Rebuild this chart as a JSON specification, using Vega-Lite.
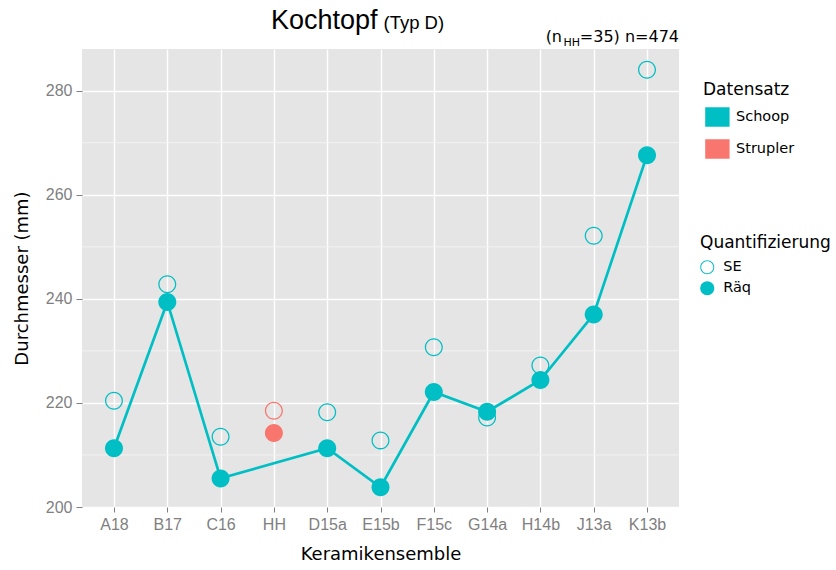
{
  "$schema": "https://vega.github.io/schema/vega-lite/v6.json",
  "autosize": {"type": "none"},
  "width": 597,
  "height": 458,
  "padding": {"left": 82, "top": 49, "right": 157, "bottom": 63},
  "background": "white",
  "config": {
    "view": {"fill": "#E5E5E5", "stroke": null},
    "axis": {
      "domain": false,
      "grid": true,
      "gridColor": "#FFFFFF",
      "gridWidth": 1.4,
      "tickColor": "#7F7F7F",
      "tickWidth": 1,
      "tickSize": 5,
      "labelColor": "#7F7F7F",
      "labelFont": "Liberation Sans",
      "labelFontSize": 16,
      "titleFont": "DejaVu Sans",
      "titleFontSize": 18,
      "titleFontWeight": "normal",
      "titleColor": "#000000"
    },
    "legend": {
      "titleFont": "DejaVu Sans",
      "titleFontSize": 17,
      "titleFontWeight": "normal",
      "titleColor": "#000000",
      "labelFont": "DejaVu Sans",
      "labelFontSize": 14.5,
      "labelColor": "#000000",
      "padding": 0
    }
  },
  "datasets": {
    "main": [
      {"Keramikensemble": "A18", "Datensatz": "Schoop", "Quantifizierung": "SE", "Durchmesser": 220.4},
      {"Keramikensemble": "B17", "Datensatz": "Schoop", "Quantifizierung": "SE", "Durchmesser": 242.8},
      {"Keramikensemble": "C16", "Datensatz": "Schoop", "Quantifizierung": "SE", "Durchmesser": 213.5},
      {"Keramikensemble": "HH", "Datensatz": "Strupler", "Quantifizierung": "SE", "Durchmesser": 218.5},
      {"Keramikensemble": "D15a", "Datensatz": "Schoop", "Quantifizierung": "SE", "Durchmesser": 218.2},
      {"Keramikensemble": "E15b", "Datensatz": "Schoop", "Quantifizierung": "SE", "Durchmesser": 212.8},
      {"Keramikensemble": "F15c", "Datensatz": "Schoop", "Quantifizierung": "SE", "Durchmesser": 230.7},
      {"Keramikensemble": "G14a", "Datensatz": "Schoop", "Quantifizierung": "SE", "Durchmesser": 217.2},
      {"Keramikensemble": "H14b", "Datensatz": "Schoop", "Quantifizierung": "SE", "Durchmesser": 227.2},
      {"Keramikensemble": "J13a", "Datensatz": "Schoop", "Quantifizierung": "SE", "Durchmesser": 252.1},
      {"Keramikensemble": "K13b", "Datensatz": "Schoop", "Quantifizierung": "SE", "Durchmesser": 284.0},
      {"Keramikensemble": "A18", "Datensatz": "Schoop", "Quantifizierung": "Räq", "Durchmesser": 211.3},
      {"Keramikensemble": "B17", "Datensatz": "Schoop", "Quantifizierung": "Räq", "Durchmesser": 239.4},
      {"Keramikensemble": "C16", "Datensatz": "Schoop", "Quantifizierung": "Räq", "Durchmesser": 205.5},
      {"Keramikensemble": "HH", "Datensatz": "Strupler", "Quantifizierung": "Räq", "Durchmesser": 214.2},
      {"Keramikensemble": "D15a", "Datensatz": "Schoop", "Quantifizierung": "Räq", "Durchmesser": 211.3},
      {"Keramikensemble": "E15b", "Datensatz": "Schoop", "Quantifizierung": "Räq", "Durchmesser": 203.8},
      {"Keramikensemble": "F15c", "Datensatz": "Schoop", "Quantifizierung": "Räq", "Durchmesser": 222.1},
      {"Keramikensemble": "G14a", "Datensatz": "Schoop", "Quantifizierung": "Räq", "Durchmesser": 218.3},
      {"Keramikensemble": "H14b", "Datensatz": "Schoop", "Quantifizierung": "Räq", "Durchmesser": 224.4},
      {"Keramikensemble": "J13a", "Datensatz": "Schoop", "Quantifizierung": "Räq", "Durchmesser": 237.0},
      {"Keramikensemble": "K13b", "Datensatz": "Schoop", "Quantifizierung": "Räq", "Durchmesser": 267.6}
    ],
    "minor": [{"v": 210}, {"v": 230}, {"v": 250}, {"v": 270}],
    "title1": [{"t": "Kochtopf"}],
    "title2": [{"t": "(Typ D)"}],
    "ann1": [{"t": "=35) n=474"}],
    "ann2": [{"t": "HH"}],
    "ann3": [{"t": "(n"}]
  },
  "layer": [
    {
      "data": {"name": "minor"},
      "mark": {"type": "rule", "color": "#F2F2F2", "strokeWidth": 1},
      "encoding": {
        "y": {"field": "v", "type": "quantitative", "scale": {"domain": [200, 288], "nice": false, "zero": false},
              "axis": {"title": "Durchmesser (mm)", "values": [200, 220, 240, 260, 280], "tickSize": 6, "labelPadding": 4, "titlePadding": 14}}
      }
    },
    {
      "data": {"name": "main"},
      "transform": [{"filter": "datum.Datensatz === 'Schoop' && datum.Quantifizierung === 'Räq'"}],
      "mark": {"type": "line", "color": "#00BFC4", "strokeWidth": 2.7},
      "encoding": {
        "x": {"field": "Keramikensemble", "type": "nominal", "sort": null,
              "scale": {"type": "point", "padding": 0.6, "domain": ["A18", "B17", "C16", "HH", "D15a", "E15b", "F15c", "G14a", "H14b", "J13a", "K13b"]},
              "axis": {"title": "Keramikensemble", "labelAngle": 0, "labelPadding": 4, "titlePadding": 13}},
        "y": {"field": "Durchmesser", "type": "quantitative", "axis": {"title": "Durchmesser (mm)", "values": [200, 220, 240, 260, 280], "tickSize": 6, "labelPadding": 4, "titlePadding": 14}}
      }
    },
    {
      "data": {"name": "main"},
      "mark": {"type": "point", "filled": true, "opacity": 1, "size": 324, "strokeWidth": 0},
      "encoding": {
        "x": {"field": "Keramikensemble", "type": "nominal", "sort": null, "axis": {"title": "Keramikensemble", "labelAngle": 0, "labelPadding": 4, "titlePadding": 13}},
        "y": {"field": "Durchmesser", "type": "quantitative", "axis": {"title": "Durchmesser (mm)", "values": [200, 220, 240, 260, 280], "tickSize": 6, "labelPadding": 4, "titlePadding": 14}},
        "color": {"field": "Datensatz", "type": "nominal",
                  "scale": {"domain": ["Schoop", "Strupler"], "range": ["#00BFC4", "#F8766D"]},
                  "legend": {"title": "Datensatz", "orient": "none", "legendX": 621, "legendY": 33,
                             "symbolType": "M-0.8,-1H1.7V1H-0.8Z", "symbolSize": 380, "symbolStrokeWidth": 0, "symbolOpacity": 1,
                             "labelOffset": 13, "rowPadding": 12, "titlePadding": 8}},
        "shape": {"field": "Quantifizierung", "type": "nominal",
                  "scale": {"domain": ["SE", "Räq"], "range": [
                    "M1,0A1,1 0 1,1 -1,0A1,1 0 1,1 1,0Z M0.86,0A0.86,0.86 0 1,0 -0.86,0A0.86,0.86 0 1,0 0.86,0Z",
                    "M1,0A1,1 0 1,1 -1,0A1,1 0 1,1 1,0Z"
                  ]},
                  "legend": {"title": "Quantifizierung", "orient": "none", "legendX": 618, "legendY": 186,
                             "symbolSize": 196, "symbolFillColor": "#00BFC4", "symbolStrokeWidth": 0, "symbolOpacity": 1,
                             "labelOffset": 8.7, "rowPadding": 5, "titlePadding": 8}},
        "order": {"field": "Quantifizierung", "sort": "descending"}
      }
    },
    {
      "data": {"name": "title1"},
      "mark": {"type": "text", "font": "Liberation Sans", "fontSize": 27, "align": "right", "baseline": "alphabetic", "dx": -3, "color": "#000000"},
      "encoding": {
        "x": {"datum": "E15b", "type": "nominal"},
        "y": {"datum": 291.9, "type": "quantitative"},
        "text": {"field": "t"}
      }
    },
    {
      "data": {"name": "title2"},
      "mark": {"type": "text", "font": "Liberation Sans", "fontSize": 18.5, "align": "left", "baseline": "alphabetic", "dx": 3, "color": "#000000"},
      "encoding": {
        "x": {"datum": "E15b", "type": "nominal"},
        "y": {"datum": 291.9, "type": "quantitative"},
        "text": {"field": "t"}
      }
    },
    {
      "data": {"name": "ann1"},
      "mark": {"type": "text", "font": "DejaVu Sans", "fontSize": 16, "align": "right", "baseline": "alphabetic", "dx": 32, "color": "#000000"},
      "encoding": {
        "x": {"datum": "K13b", "type": "nominal"},
        "y": {"datum": 289.4, "type": "quantitative"},
        "text": {"field": "t"}
      }
    },
    {
      "data": {"name": "ann2"},
      "mark": {"type": "text", "font": "DejaVu Sans", "fontSize": 11, "align": "right", "baseline": "alphabetic", "dx": -67, "dy": 4, "color": "#000000"},
      "encoding": {
        "x": {"datum": "K13b", "type": "nominal"},
        "y": {"datum": 289.4, "type": "quantitative"},
        "text": {"field": "t"}
      }
    },
    {
      "data": {"name": "ann3"},
      "mark": {"type": "text", "font": "DejaVu Sans", "fontSize": 16, "align": "right", "baseline": "alphabetic", "dx": -85, "color": "#000000"},
      "encoding": {
        "x": {"datum": "K13b", "type": "nominal"},
        "y": {"datum": 289.4, "type": "quantitative"},
        "text": {"field": "t"}
      }
    }
  ]
}
